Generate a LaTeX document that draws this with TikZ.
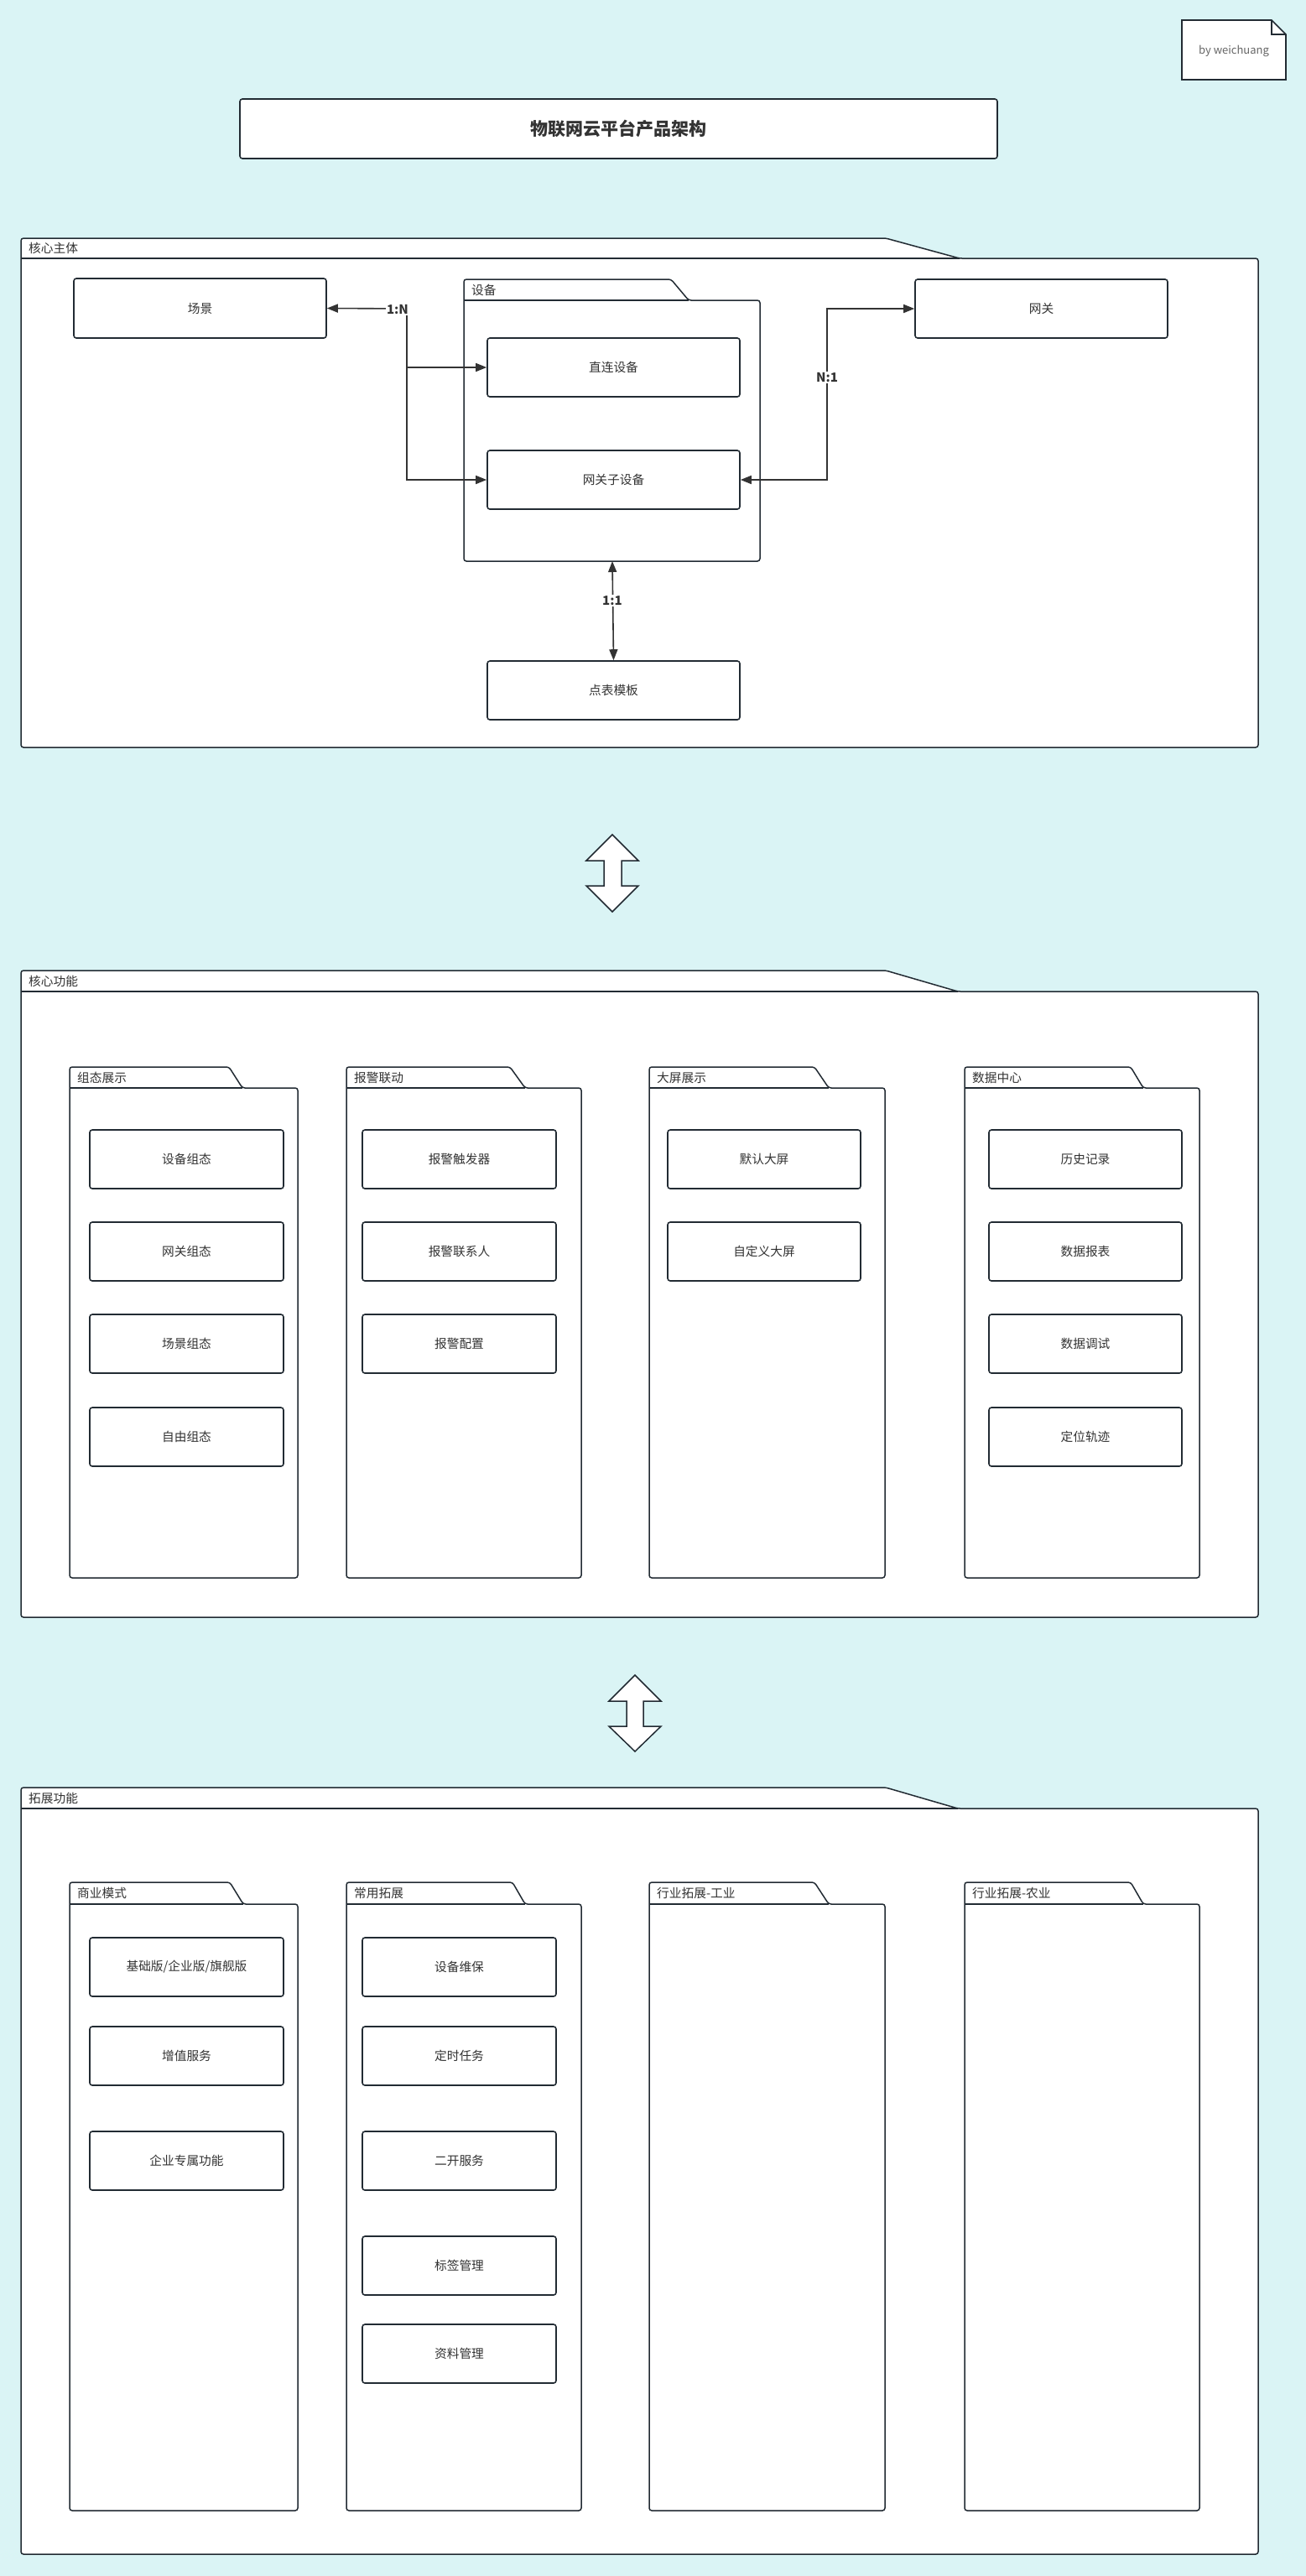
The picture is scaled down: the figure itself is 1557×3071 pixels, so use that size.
\documentclass[tikz,border=0pt]{standalone}
\usepackage{fontspec}
\setmainfont{Noto Sans CJK SC}
\usetikzlibrary{arrows.meta}
\definecolor{bgc}{HTML}{DAF4F5}
\definecolor{lnc}{HTML}{222B33}
\definecolor{txc}{HTML}{333333}
\definecolor{notec}{HTML}{666666}

% rounded box from its corners: name, x1, y1, x2, y2, text
\newcommand\mkbox[6]{%
  \node[box, minimum width={(#4-#2)*1pt}, minimum height={(#5-#3)*1pt}]
    (#1) at ({(#2+#4)/2},{(#3+#5)/2}) {#6};}
% UML package: x1, tab top, tab line, tab right, slant end, x2, bottom, label, label name
\newcommand\mkpkg[9]{%
  \draw[pkg] (#1,#3) -- (#1,#2) -- (#4,#2) -- (#5,#3) -- (#6,#3) -- (#6,#7) -- (#1,#7) -- cycle;
  \draw[tabsep] (#1,#3) -- (#5,#3);
  \node[anchor=west, inner sep=0pt] (#9) at (#1+9,{(#2+#3)/2}) {#8};}

\begin{document}
\begin{tikzpicture}[x=1pt,y=-1pt,
  every node/.style={font=\fontsize{14.7}{18}\selectfont, text=txc},
  box/.style={draw=lnc, line width=1.6pt, fill=white, rounded corners=3pt, inner sep=0pt},
  pkg/.style={draw=lnc, line width=1.5pt, fill=white, rounded corners=3pt},
  tabsep/.style={draw=lnc, line width=1.5pt},
  link/.style={draw=txc, line width=1.6pt, -{Triangle[length=13pt,width=10pt]}},
  link2/.style={draw=txc, line width=1.6pt, {Triangle[length=13pt,width=10pt]}-{Triangle[length=13pt,width=10pt]}},
  card/.style={fill=white, inner sep=1.5pt, font=\fontsize{15}{18}\selectfont\bfseries},
  dbl/.style={draw=lnc, line width=1.5pt, fill=white, line join=miter}
]
\useasboundingbox (0,0) rectangle (1557,3071);
\fill[bgc] (0,0) rectangle (1557,3071);

% author note
\draw[draw=lnc, line width=1.6pt, fill=white] (1409,24) -- (1516,24) -- (1533,41) -- (1533,95) -- (1409,95) -- cycle;
\draw[draw=lnc, line width=1.6pt] (1516,24) -- (1516,41) -- (1533,41);
\node[text=notec, font=\fontsize{13}{16}\selectfont] (by) at (1471,61) {by weichuang};

% title
\node[box, minimum width=903pt, minimum height=71pt, font=\fontsize{21}{24}\selectfont\bfseries]
  (title) at (737.5,153.5) {物联网云平台产品架构};

% ---------------- core entities ----------------
\mkpkg{25}{284}{308}{1056}{1144}{1500}{891}{核心主体}{lblA}
\mkpkg{553}{333}{358}{800}{821}{906}{669}{设备}{lblDev}
\coordinate (devS) at (730,669);

\mkbox{cj}{88}{332}{389}{403}{场景}
\mkbox{wg}{1091}{333}{1392}{403}{网关}
\mkbox{zl}{581}{403}{882}{473}{直连设备}
\mkbox{wgz}{581}{537}{882}{607}{网关子设备}
\mkbox{db}{581}{788}{882}{858}{点表模板}

\coordinate (jn) at (485,368);
\coordinate (jg) at (986,368);
\draw[link] (jn) -- (cj.east);
\draw[link] (jn) |- (zl.west);
\draw[link] (jn) |- (wgz.west);
\node[card] (l1n) at (474,369) {1:N};

\draw[link2] (wgz.east) -| (jg) -- (wg.west);
\node[card] (ln1) at (986,450) {N:1};

\draw[link2] (devS) -- (db.north);
\node[card] (l11) at (730,716) {1:1};

% double arrow
\draw[dbl] (730,995) -- (761,1026) -- (741,1026) -- (741,1056) -- (761,1056) -- (730,1087)
  -- (699,1056) -- (720,1056) -- (720,1026) -- (699,1026) -- cycle;

% ---------------- core functions ----------------
\mkpkg{25}{1157}{1182}{1056}{1142}{1500}{1928}{核心功能}{lblB}
\mkpkg{83}{1272}{1297}{273}{289}{355}{1881}{组态展示}{lblB1}
\mkpkg{413}{1272}{1297}{608}{626}{693}{1881}{报警联动}{lblB2}
\mkpkg{774}{1272}{1297}{971}{988}{1055}{1881}{大屏展示}{lblB3}
\mkpkg{1150}{1272}{1297}{1348}{1363}{1430}{1881}{数据中心}{lblB4}

\mkbox{zt1}{107}{1347}{338}{1417}{设备组态}
\mkbox{zt2}{107}{1457}{338}{1527}{网关组态}
\mkbox{zt3}{107}{1567}{338}{1637}{场景组态}
\mkbox{zt4}{107}{1678}{338}{1748}{自由组态}

\mkbox{bj1}{432}{1347}{663}{1417}{报警触发器}
\mkbox{bj2}{432}{1457}{663}{1527}{报警联系人}
\mkbox{bj3}{432}{1567}{663}{1637}{报警配置}

\mkbox{dp1}{796}{1347}{1026}{1417}{默认大屏}
\mkbox{dp2}{796}{1457}{1026}{1527}{自定义大屏}

\mkbox{sj1}{1179}{1347}{1409}{1417}{历史记录}
\mkbox{sj2}{1179}{1457}{1409}{1527}{数据报表}
\mkbox{sj3}{1179}{1567}{1409}{1637}{数据调试}
\mkbox{sj4}{1179}{1678}{1409}{1748}{定位轨迹}

% double arrow
\draw[dbl] (757,1997) -- (788,2028) -- (767,2028) -- (767,2058) -- (788,2058) -- (757,2088)
  -- (726,2058) -- (747,2058) -- (747,2028) -- (726,2028) -- cycle;

% ---------------- extensions ----------------
\mkpkg{25}{2131}{2156}{1056}{1142}{1500}{3045}{拓展功能}{lblC}
\mkpkg{83}{2244}{2270}{274}{290}{355}{2993}{商业模式}{lblC1}
\mkpkg{413}{2244}{2270}{611}{626}{693}{2993}{常用拓展}{lblC2}
\mkpkg{774}{2244}{2270}{971}{988}{1055}{2993}{行业拓展-工业}{lblC3}
\mkpkg{1150}{2244}{2270}{1348}{1363}{1430}{2993}{行业拓展-农业}{lblC4}

\mkbox{sy1}{107}{2310}{338}{2380}{基础版/企业版/旗舰版}
\mkbox{sy2}{107}{2416}{338}{2486}{增值服务}
\mkbox{sy3}{107}{2541}{338}{2611}{企业专属功能}

\mkbox{cy1}{432}{2310}{663}{2380}{设备维保}
\mkbox{cy2}{432}{2416}{663}{2486}{定时任务}
\mkbox{cy3}{432}{2541}{663}{2611}{二开服务}
\mkbox{cy4}{432}{2666}{663}{2736}{标签管理}
\mkbox{cy5}{432}{2771}{663}{2841}{资料管理}
\end{tikzpicture}
\end{document}
